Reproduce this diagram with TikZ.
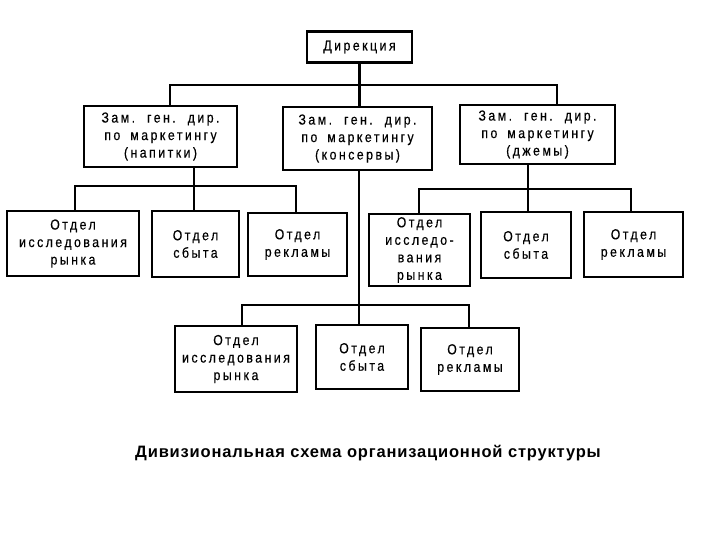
\documentclass[tikz,border=0pt]{standalone}
\usepackage{fontspec}
\setmainfont{Liberation Sans}
\newfontfamily\bxfont[LetterSpace=17,FakeStretch=0.85,FakeBold=0.4,WordSpace=1.7]{Liberation Sans}
\newfontfamily\capfont[LetterSpace=5]{Liberation Sans}
\begin{document}
\begin{tikzpicture}[x=1pt,y=-1pt,
  org/.style={draw=black,fill=white,align=center,inner sep=0pt,
    font=\bxfont\fontsize{14.5}{17.5}\selectfont,line width=2.1pt},
  bthick/.style={line width=2.5pt},
  bthin/.style={line width=1.3pt},
  thin/.style={line width=1.3pt},
  mid/.style={line width=1.7pt},
  thick/.style={line width=2.2pt},
  conn/.style={draw=black,line cap=rect}]
\useasboundingbox (0,0) rectangle (720,540);
\fill[white] (0,0) rectangle (720,540);
% nodes
\node[org,bthick,minimum width=105pt,minimum height=31pt] (dir) at (359.5,47) {Дирекция};
\node[org,bthick,minimum width=153pt,minimum height=61pt] (A) at (160.5,136.5) {Зам. ген. дир.\\по маркетингу\\(напитки)};
\node[org,minimum width=149pt,minimum height=63pt] (B) at (357.5,138.5) {Зам. ген. дир.\\по маркетингу\\(консервы)};
\node[org,minimum width=155pt,minimum height=59pt] (C) at (537.5,134.5) {Зам. ген. дир.\\по маркетингу\\(джемы)};
\node[org,bthin,minimum width=132pt,minimum height=65pt] (A1) at (73,243.5) {Отдел\\исследования\\рынка};
\node[org,mid,minimum width=87pt,minimum height=66pt] (A2) at (195.5,244) {Отдел\\сбыта};
\node[org,minimum width=99pt,minimum height=63pt] (A3) at (297.5,244.5) {Отдел\\рекламы};
\node[org,minimum width=101pt,minimum height=72pt] (C1) at (419.5,250) {Отдел\\исследо-\\вания\\рынка};
\node[org,bthick,minimum width=90pt,minimum height=66pt] (C2) at (526,245) {Отдел\\сбыта};
\node[org,bthin,minimum width=99pt,minimum height=65pt] (C3) at (633.5,244.5) {Отдел\\рекламы};
\node[org,minimum width=122pt,minimum height=66pt] (B1) at (236,359) {Отдел\\исследования\\рынка};
\node[org,bthin,minimum width=92pt,minimum height=64pt] (B2) at (362,357) {Отдел\\сбыта};
\node[org,minimum width=98pt,minimum height=63pt] (B3) at (470,359.5) {Отдел\\рекламы};
\node[font=\capfont\bfseries\fontsize{16.5}{20}\selectfont] (cap) at (368,453) {Дивизиональная схема организационной структуры};
% bus coordinates
\coordinate (bus1L) at (170,85);
\coordinate (bus1R) at (557,85);
\coordinate (busAL) at (75,186);
\coordinate (busAR) at (296,186);
\coordinate (busBL) at (242,305);
\coordinate (busBR) at (469,305);
\coordinate (busCL) at (419,189);
\coordinate (busCR) at (631,189);
% connectors
\draw[conn,thick] (dir.south) -- (dir.south |- B.north);
\draw[conn,thick] (bus1L) -- (bus1R);
\draw[conn,thin] (bus1L) -- (bus1L |- A.north);
\draw[conn,thin] (bus1R) -- (bus1R |- C.north);
% A group
\draw[conn,thick] (194,0 |- A.south) -- (194,186);
\draw[conn,mid] (busAL) -- (busAR);
\draw[conn,mid] (busAL) -- (busAL |- A1.north);
\draw[conn,mid] (194,186) -- (194,0 |- A2.north);
\draw[conn,mid] (busAR) -- (busAR |- A3.north);
% B group
\draw[conn,thick] (359,0 |- B.south) -- (359,305);
\draw[conn,mid] (busBL) -- (busBR);
\draw[conn,mid] (busBL) -- (busBL |- B1.north);
\draw[conn,mid] (359,305) -- (359,0 |- B2.north);
\draw[conn,mid] (busBR) -- (busBR |- B3.north);
% C group
\draw[conn,thin] (528,0 |- C.south) -- (528,189);
\draw[conn,thin] (busCL) -- (busCR);
\draw[conn,thin] (busCL) -- (busCL |- C1.north);
\draw[conn,thin] (528,189) -- (528,0 |- C2.north);
\draw[conn,thin] (busCR) -- (busCR |- C3.north);
\end{tikzpicture}
\end{document}
